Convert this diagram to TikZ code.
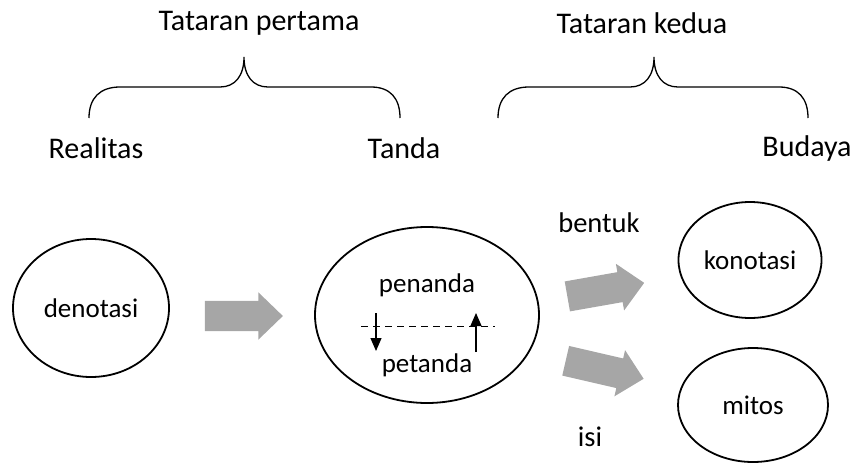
\documentclass[tikz,border=0pt]{standalone}
\usepackage{fontspec}
\setmainfont{Carlito}
\usetikzlibrary{shapes.geometric}
\usetikzlibrary{shapes.arrows}
\usetikzlibrary{arrows.meta}

\begin{document}
\begin{tikzpicture}[
    x=1pt, y=-1pt,
    every node/.style={font=\fontsize{27}{32}\selectfont},
    judul/.style={font=\fontsize{30}{36}\selectfont},
    ket/.style={font=\fontsize{28.5}{34}\selectfont},
    oval/.style={draw, line width=1.8pt, ellipse, inner sep=0pt},
    panah/.style={single arrow, fill=black!35, draw=none, inner xsep=0pt,
        inner ysep=15pt, single arrow head extend=8.5pt,
        single arrow tip angle=88},
    kurung/.style={line width=1.3pt},
    garis/.style={line width=1.2pt, -{Triangle[width=11pt,length=13pt]}}
]
\useasboundingbox (0,0) rectangle (851,466);

% Top labels
\node[judul] (tat1) at (259,23) {Tataran pertama};
\node[judul] (tat2) at (642,23) {Tataran kedua};

% Braces
\draw[kurung] (89,118) .. controls (89,98) and (100,87) .. (120,87) -- (220,87)
    .. controls (235,87) and (244,76) .. (244,57)
    .. controls (244,76) and (253,87) .. (268,87) -- (371,87)
    .. controls (390,87) and (400,98) .. (400,118);
\draw[kurung] (498,118) .. controls (498,98) and (509,87) .. (529,87) -- (630,87)
    .. controls (645,87) and (654,76) .. (654,57)
    .. controls (654,76) and (663,87) .. (678,87) -- (779,87)
    .. controls (798,87) and (808,98) .. (808,118);

% Bottom labels of braces
\node[judul] (real) at (96,148) {Realitas};
\node[judul] (tanda) at (404,148) {Tanda};
\node[judul] (budaya) at (807,148) {Budaya};

% Ellipses
\node[oval, minimum width=156pt, minimum height=138pt] (denot) at (91,308) {denotasi};
\node[oval, minimum width=224pt, minimum height=176pt] (sign) at (427,315) {};
\node[oval, minimum width=143pt, minimum height=116pt] (konot) at (750,260) {konotasi};
\node[oval, minimum width=150pt, minimum height=114pt] (mitos) at (753,405) {mitos};

% Inside the sign
\node (penanda) at (427,285) {penanda};
\node (petanda) at (427,365) {petanda};
\coordinate (dl) at (361,326);
\coordinate (dr) at (495,326);
\draw[line width=1pt, dash pattern=on 7pt off 5pt] (dl) -- (dr);
\coordinate (turun1) at (376,313);
\coordinate (turun2) at (376,351);
\coordinate (naik1) at (476,352);
\coordinate (naik2) at (476,313);
\draw[garis] (turun1) -- (turun2);
\draw[garis] (naik1) -- (naik2);

% Gray arrows
\node[panah, minimum height=78pt] (p1) at (236,316) {};
\node[panah, minimum height=78pt, rotate=10] (p2) at (598,291) {};
\node[panah, minimum height=80pt, rotate=-13] (p3) at (597,368) {};

% Arrow labels
\node[ket] (bentuk) at (599,223) {bentuk};
\node[ket] (isi) at (590,437) {isi};

\end{tikzpicture}
\end{document}
